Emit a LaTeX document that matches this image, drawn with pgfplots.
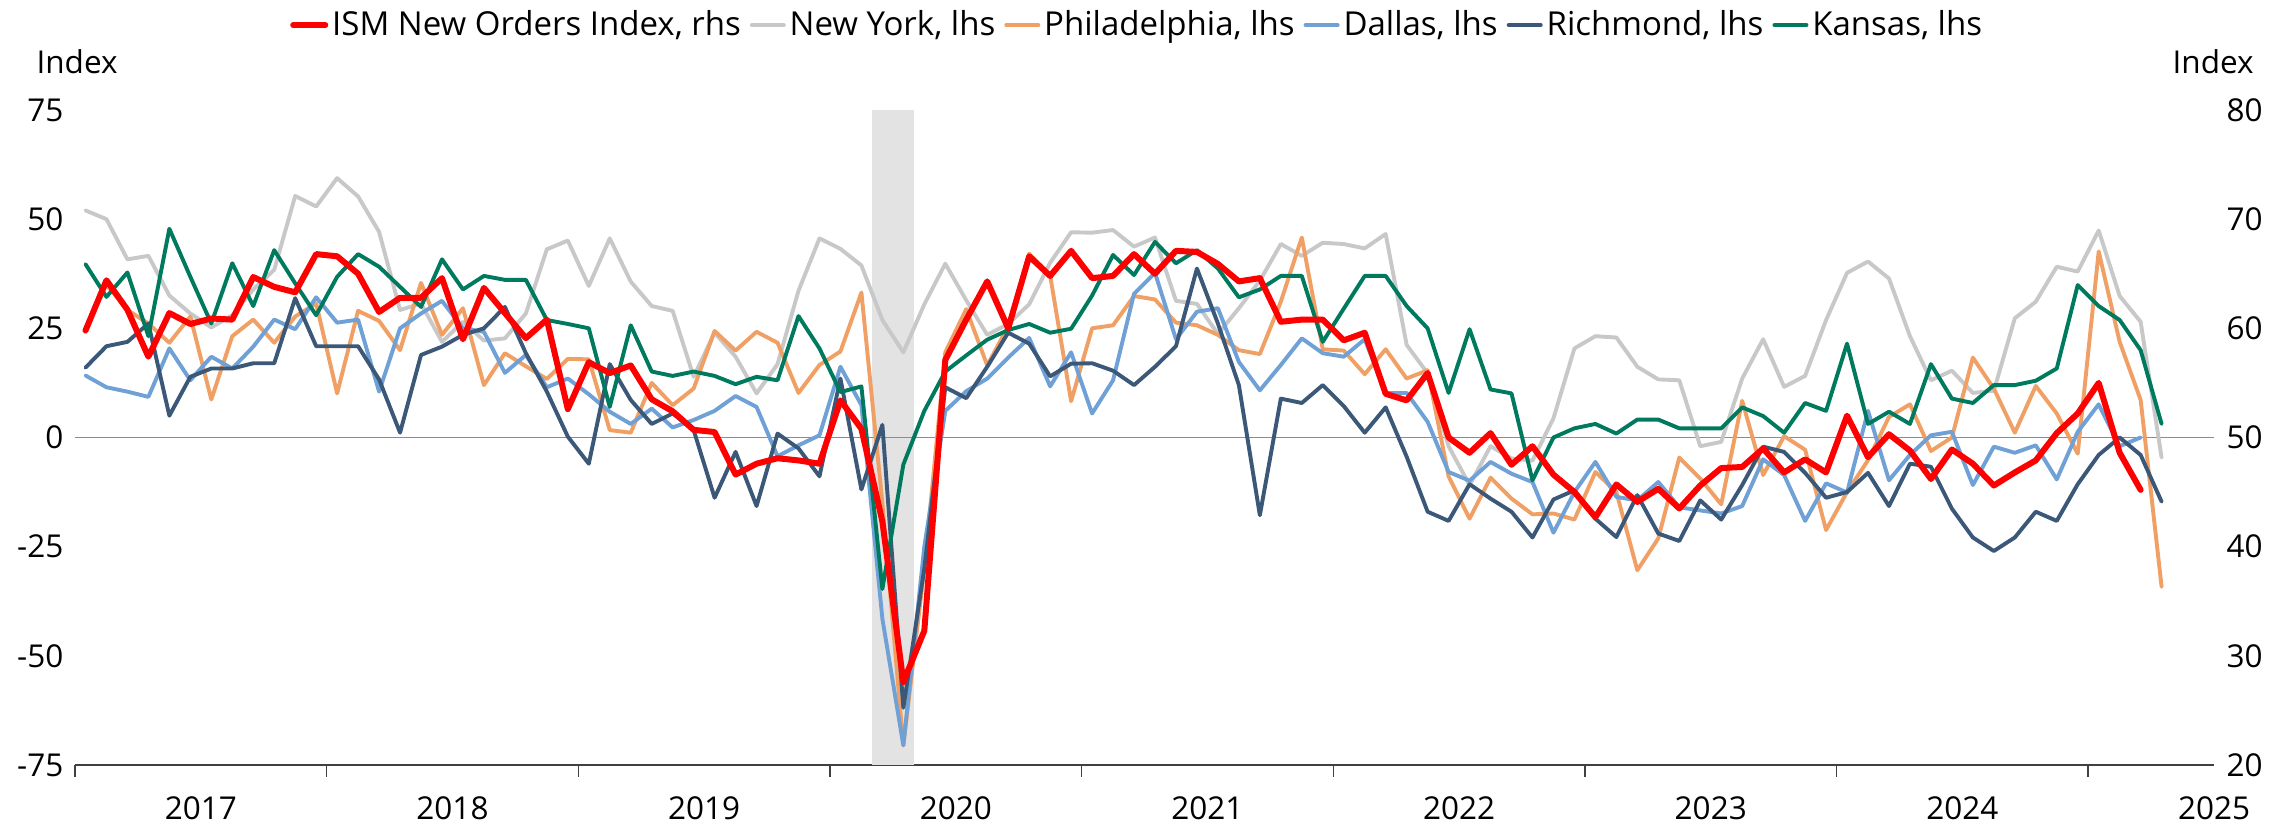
\documentclass[border=0pt]{standalone}
\usepackage{fontspec}
\setmainfont{Open Sans}
\usepackage{pgfplots}
\usepackage{pgfplotstable}
\pgfplotsset{compat=1.18}
\definecolor{ismred}{HTML}{FF0000}
\definecolor{nygray}{HTML}{C8C8C8}
\definecolor{phorange}{HTML}{F0A064}
\definecolor{dablue}{HTML}{6FA0D6}
\definecolor{rinavy}{HTML}{3B5878}
\definecolor{kagreen}{HTML}{007A5E}
\definecolor{bandgray}{HTML}{E2E3E2}
\definecolor{zerogray}{HTML}{8C8C8C}
\definecolor{axisdark}{HTML}{404040}
\tikzset{
  serbase/.style={line join=round, line cap=round},
  ismstyle/.style={serbase, draw=ismred, line width=2pt},
  nystyle/.style={serbase, draw=nygray, line width=1.3pt},
  phstyle/.style={serbase, draw=phorange, line width=1.3pt},
  dastyle/.style={serbase, draw=dablue, line width=1.3pt},
  ristyle/.style={serbase, draw=rinavy, line width=1.3pt},
  kastyle/.style={serbase, draw=kagreen, line width=1.3pt},
}
\newcommand{\lblfont}{\fontsize{10.5}{12}\selectfont}
\newcommand{\legfont}{\fontsize{11}{13}\selectfont}
\pgfplotstableread{
i NY PH DA RI KA
0 52.0 25.0 14.2 16.0 39.7
1 50.0 35.0 11.5 20.9 32.2
2 40.8 29.2 10.5 21.9 37.8
3 41.6 26.1 9.3 26.1 23.2
4 32.5 21.7 20.4 5.0 47.8
5 28.4 27.7 13.1 13.9 36.8
6 25.2 8.7 18.5 15.8 26.1
7 28.0 23.2 15.8 15.8 39.9
8 33.9 27.0 20.8 17.0 30.1
9 38.4 21.7 27.0 17.0 42.9
10 55.3 27.7 24.8 31.9 35.3
11 52.9 30.7 32.1 20.9 28.0
12 59.4 10.1 26.3 20.9 36.8
13 55.2 29.0 27.0 20.9 42.0
14 47.1 26.7 10.5 13.3 39.1
15 29.2 20.0 25.0 1.1 34.5
16 30.7 35.4 28.4 18.9 29.9
17 21.9 23.5 31.3 20.8 40.8
18 26.5 29.6 25.0 23.5 33.9
19 22.2 12.0 24.2 25.0 37.0
20 22.7 19.3 14.8 29.9 36.1
21 28.4 16.3 18.9 19.3 36.1
22 43.1 13.4 11.5 10.5 26.9
23 45.1 18.0 13.5 0.2 26.0
24 34.7 17.9 9.9 -6.0 25.0
25 45.6 1.7 5.9 16.8 7.0
26 35.7 1.1 3.1 8.6 25.7
27 30.1 12.5 6.6 3.1 15.1
28 29.0 7.4 2.3 5.5 14.1
29 13.9 11.2 4.0 1.7 15.1
30 24.0 24.4 6.1 -13.8 14.1
31 18.5 19.9 9.5 -3.3 12.2
32 10.1 24.2 7.0 -15.7 13.9
33 16.8 21.7 -4.3 0.9 13.1
34 33.6 10.2 -1.8 -2.5 27.8
35 45.6 16.6 0.5 -8.9 20.4
36 43.2 19.7 16.2 13.5 10.4
37 39.4 33.2 7.4 -11.9 11.7
38 26.9 -15.0 -41.5 2.9 -34.7
39 19.5 -70.5 -70.5 -61.9 -6.2
40 30.5 -30.0 -25.0 -30.0 6.1
41 39.8 19.5 6.1 11.5 15.1
42 31.4 29.4 10.6 9.0 18.8
43 23.5 16.5 13.5 16.2 22.4
44 26.0 25.5 18.3 24.0 24.6
45 30.5 42.1 22.8 21.5 26.0
46 40.0 37.1 11.7 14.0 24.0
47 47.0 8.3 19.5 16.9 24.9
48 46.9 25.0 5.5 17.0 32.5
49 47.5 25.7 13.1 15.3 41.8
50 43.7 32.4 32.9 12.0 37.2
51 45.8 31.6 37.7 16.2 44.8
52 31.3 26.3 22.5 20.9 39.9
53 30.6 25.7 28.8 38.7 42.9
54 23.7 23.5 29.6 26.1 38.7
55 29.6 20.0 17.3 12.0 32.1
56 35.9 19.1 10.8 -17.8 33.9
57 44.3 31.1 16.6 8.9 37.0
58 41.6 45.8 22.7 7.9 37.0
59 44.6 20.2 19.3 12.0 21.9
60 44.3 19.9 18.5 7.2 29.5
61 43.3 14.5 22.5 1.1 37.0
62 46.6 20.2 10.2 6.9 37.0
63 21.2 13.5 10.2 -4.4 30.1
64 14.7 15.4 3.6 -17.0 25.0
65 -2.0 -8.9 -7.9 -19.1 10.2
66 -10.9 -18.6 -9.9 -10.7 24.8
67 -2.0 -9.2 -5.6 -14.0 11.0
68 -4.8 -14.0 -8.3 -17.0 10.1
69 -5.3 -17.6 -10.2 -22.9 -9.8
70 4.4 -17.4 -21.8 -14.2 0.0
71 20.4 -18.8 -12.5 -12.1 2.1
72 23.2 -7.9 -5.6 -18.6 3.1
73 22.9 -12.5 -13.6 -22.8 0.9
74 16.2 -30.4 -14.4 -13.2 4.1
75 13.3 -23.1 -10.2 -22.0 4.1
76 13.1 -4.6 -16.0 -23.7 2.1
77 -2.0 -9.4 -16.7 -14.4 2.1
78 -1.0 -15.3 -17.4 -18.8 2.1
79 13.5 8.4 -15.7 -10.9 6.9
80 22.5 -8.6 -5.0 -2.1 4.9
81 11.6 0.3 -8.6 -3.3 1.1
82 14.1 -2.8 -19.1 -8.1 7.9
83 26.9 -21.2 -10.5 -13.8 6.1
84 37.7 -12.5 -12.6 -12.5 21.5
85 40.3 -5.2 6.1 -8.1 3.1
86 36.4 4.7 -9.8 -15.7 5.9
87 23.2 7.6 -4.0 -6.0 3.1
88 13.1 -3.1 0.5 -6.7 16.8
89 15.3 0.0 1.3 -16.3 8.9
90 10.2 18.3 -10.9 -22.9 7.9
91 10.7 11.2 -2.1 -26.0 12.0
92 27.3 1.1 -3.5 -22.9 12.0
93 31.1 11.8 -1.8 -17.0 13.0
94 39.1 5.5 -9.6 -19.1 15.8
95 38.0 -3.7 1.3 -10.7 34.9
96 47.4 42.6 7.6 -4.0 30.1
97 32.4 21.9 -2.0 0.0 26.9
98 26.5 8.6 0.0 -4.0 20.0
99 -4.6 -34.2 nan -14.7 3.1
}\regional
\pgfplotstableread{
i ISM
0 59.8
1 64.4
2 61.7
3 57.4
4 61.4
5 60.4
6 60.9
7 60.8
8 64.7
9 63.8
10 63.3
11 66.8
12 66.6
13 65.0
14 61.5
15 62.8
16 62.8
17 64.6
18 59.0
19 63.7
20 61.4
21 59.1
22 60.8
23 52.6
24 56.9
25 55.9
26 56.6
27 53.5
28 52.4
29 50.7
30 50.5
31 46.6
32 47.6
33 48.1
34 47.9
35 47.6
36 53.4
37 50.8
38 42.3
39 27.6
40 32.3
41 57.1
42 60.8
43 64.3
44 60.0
45 66.6
46 64.8
47 67.1
48 64.6
49 64.8
50 66.8
51 65.0
52 67.1
53 67.0
54 65.9
55 64.3
56 64.6
57 60.6
58 60.8
59 60.8
60 58.9
61 59.6
62 54.0
63 53.4
64 55.9
65 50.0
66 48.6
67 50.4
68 47.5
69 49.2
70 46.6
71 45.0
72 42.7
73 45.7
74 44.1
75 45.3
76 43.5
77 45.6
78 47.2
79 47.3
80 49.0
81 46.8
82 48.0
83 46.8
84 52.0
85 48.2
86 50.3
87 48.8
88 46.2
89 48.9
90 47.6
91 45.6
92 46.8
93 47.9
94 50.4
95 52.2
96 55.0
97 48.6
98 45.2
}\ism
\begin{document}
\begin{tikzpicture}
\useasboundingbox (-25pt,-19.67pt) rectangle (731.33pt,255pt);
\begin{axis}[
  scale only axis, width=713pt, height=218.33pt,
  xmin=0, xmax=102, ymin=-75, ymax=75,
  axis x line*=bottom, axis y line*=left,
  x axis line style={-, draw=axisdark, line width=0.5pt},
  y axis line style={draw=none},
  xtick={0,12,...,96}, xticklabels={},
  tick align=outside, major tick length=4pt,
  xtick style={draw=axisdark, line width=0.5pt},
  extra x ticks={6,18,...,102},
  extra x tick labels={2017,2018,2019,2020,2021,2022,2023,2024,2025},
  extra x tick style={major tick length=0pt},
  xticklabel style={anchor=north, inner sep=0pt, yshift=-10.5pt},
  ytick={-75,-50,...,75}, ytick style={draw=none},
  yticklabel style={anchor=east, inner sep=0pt, xshift=0.3pt},
  /pgf/number format/assume math mode=true,
  tick label style={font=\lblfont},
  ylabel={Index},
  every axis y label/.style={at={(axis description cs:0,1)}, anchor=center, yshift=16pt, xshift=0.7pt, font=\lblfont},
  legend columns=6,
  legend style={at={(0.497,1)}, anchor=center, yshift=28.3pt, draw=none, fill=none, font=\legfont,
    nodes={inner xsep=1.3pt, inner ysep=2pt},
    /tikz/every even column/.append style={column sep=1.7pt}},
  legend image code/.code={\draw[#1] (0pt,0pt) -- (10.7pt,0pt);},
]
\addplot[forget plot, draw=none, fill=bandgray] coordinates {(38,-75) (38,75) (40,75) (40,-75)} -- cycle;
\addplot[forget plot, draw=zerogray, line width=0.5pt] coordinates {(0,0) (102,0)};
\addlegendimage{ismstyle}
\addlegendentry{ISM New Orders Index, rhs}
\addplot[nystyle] table[x expr=\thisrow{i}+0.5, y=NY]{\regional};
\addlegendentry{New York, lhs}
\addplot[phstyle] table[x expr=\thisrow{i}+0.5, y=PH]{\regional};
\addlegendentry{Philadelphia, lhs}
\addplot[dastyle] table[x expr=\thisrow{i}+0.5, y=DA]{\regional};
\addlegendentry{Dallas, lhs}
\addplot[ristyle] table[x expr=\thisrow{i}+0.5, y=RI]{\regional};
\addlegendentry{Richmond, lhs}
\addplot[kastyle] table[x expr=\thisrow{i}+0.5, y=KA]{\regional};
\addlegendentry{Kansas, lhs}
\end{axis}
\begin{axis}[
  scale only axis, width=713pt, height=218.33pt,
  xmin=0, xmax=102, ymin=20, ymax=80,
  hide x axis,
  axis y line*=right,
  y axis line style={draw=none},
  ytick={20,30,...,80}, ytick style={draw=none},
  yticklabel pos=right,
  yticklabel style={anchor=west, inner sep=0pt, xshift=4pt},
  /pgf/number format/assume math mode=true,
  tick label style={font=\lblfont},
  ylabel={Index},
  every axis y label/.style={at={(axis description cs:1,1)}, anchor=center, yshift=16pt, xshift=-0.3pt, font=\lblfont},
]
\addplot[ismstyle] table[x expr=\thisrow{i}+0.5, y=ISM]{\ism};
\end{axis}
\end{tikzpicture}
\end{document}
